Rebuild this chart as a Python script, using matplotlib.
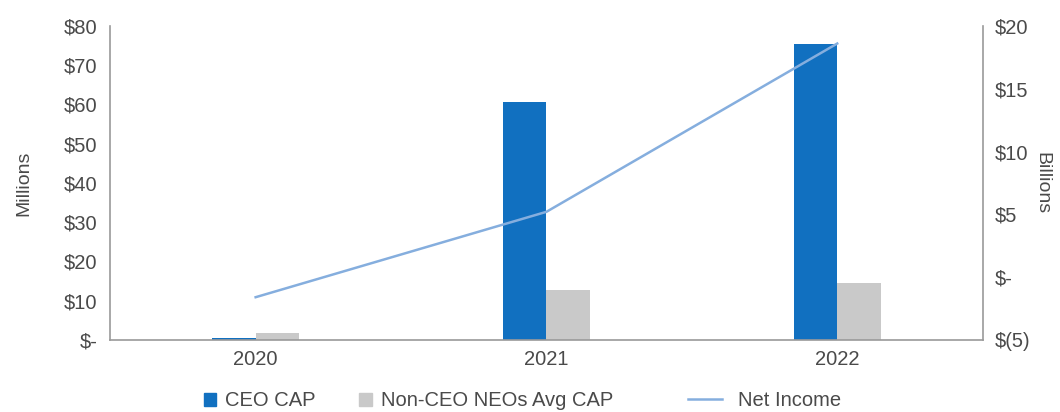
import matplotlib
matplotlib.use("Agg")
import matplotlib.pyplot as plt
from matplotlib.lines import Line2D
from matplotlib.patches import Patch, Rectangle
from matplotlib.legend_handler import HandlerPatch
import numpy as np

years = ["2020", "2021", "2022"]
ceo_cap = [0.5, 60.5, 75.5]          # $ millions
neo_avg_cap = [1.8, 12.7, 14.5]      # $ millions
net_income = [-1.6, 5.2, 18.6]       # $ billions

left_ticks = [0, 10, 20, 30, 40, 50, 60, 70, 80]
left_labels = ["$-", "$10", "$20", "$30", "$40", "$50", "$60", "$70", "$80"]
right_ticks = [-5, 0, 5, 10, 15, 20]
right_labels = ["$(5)", "$-", "$5", "$10", "$15", "$20"]

blue = "#1170c0"
gray = "#c9c9c9"
line_blue = "#85aede"
text_col = "#4a4a4a"
spine_col = "#9a9a9a"

plt.rcParams['font.family'] = ['Liberation Sans', 'DejaVu Sans']

fig = plt.figure(figsize=(10.6, 4.12), dpi=100)
ax = fig.add_axes([0.104, 0.175, 0.823, 0.762])

x = np.arange(len(years))
w = 0.15
ax.bar(x - w / 2, ceo_cap, w, color=blue, zorder=2)
ax.bar(x + w / 2, neo_avg_cap, w, color=gray, zorder=2)
ax.set_xlim(-0.5, 2.5)
ax.set_ylim(0, 80)
ax.set_xticks(x)
ax.set_xticklabels(years)
ax.set_yticks(left_ticks)
ax.set_yticklabels(left_labels)
ax.set_ylabel("Millions", fontsize=14, color=text_col, va="center")
ax.yaxis.set_label_coords(-0.099, 0.5)

ax2 = ax.twinx()
ax2.plot(x, net_income, color=line_blue, lw=1.8, zorder=3)
ax2.set_ylim(-5, 20)
ax2.set_yticks(right_ticks)
ax2.set_yticklabels(right_labels)
ax2.set_ylabel("Billions", fontsize=14, color=text_col, rotation=-90, va="center")
ax2.yaxis.set_label_coords(1.068, 0.5)

for a in (ax, ax2):
    a.tick_params(length=0, labelsize=14.5, colors=text_col, pad=9)
    a.spines["top"].set_visible(False)
    for s in ("left", "right", "bottom"):
        a.spines[s].set_color(spine_col)
        a.spines[s].set_linewidth(1.2)
ax.spines["right"].set_visible(False)
ax2.spines["left"].set_visible(False)
ax2.spines["bottom"].set_visible(False)
ax.tick_params(axis="x", pad=7)


def square(legend, orig_handle, xdescent, ydescent, width, height, fontsize):
    # small square that sits close to its label
    s = 9
    return Rectangle((width - xdescent - s + 5, -ydescent + height / 2 - s / 2), s, s)


# one legend per entry so the gaps can follow the reference
entries = [
    (Patch(color=blue), "CEO CAP", 0.165),
    (Patch(color=gray), "Non-CEO NEOs Avg CAP", 0.312),
    (Line2D([], [], color=line_blue, lw=1.8), "Net Income", 0.649),
]
for h, lab, xpos in entries:
    fig.legend([h], [lab], loc="center left", bbox_to_anchor=(xpos, 0.027),
               frameon=False, borderpad=0, borderaxespad=0,
               fontsize=14.5, labelcolor=text_col, handlelength=1.7,
               handletextpad=0.8,
               handler_map={Patch: HandlerPatch(patch_func=square)})

fig.savefig("out.png", dpi=100)
